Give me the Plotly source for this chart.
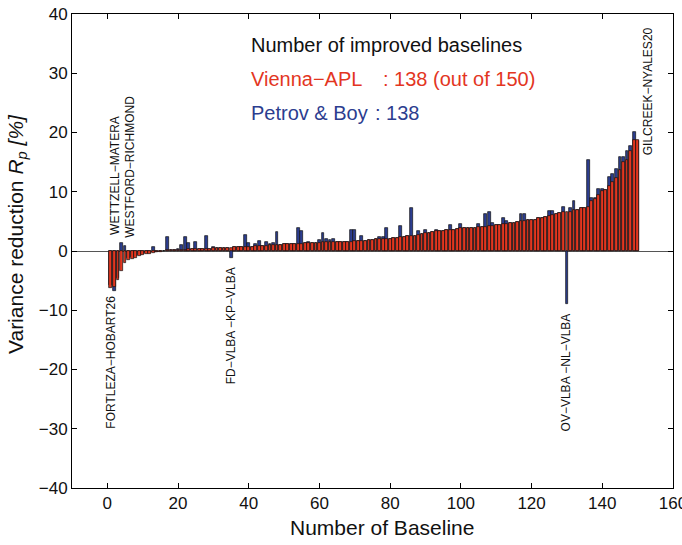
import plotly.graph_objects as go

# ---------------- data ----------------
baseline = list(range(1, 151))

vienna_apl = [
    -6.2, -6.0, -4.9, -3.4, -2.1, -1.6, -1.3, -1.1, -0.9, -0.7,
    -0.55, -0.45, -0.3, -0.2, -0.1, 0.05, 0.1, 0.15, 0.2, 0.2,
    0.25, 0.25, 0.3, 0.3, 0.35, 0.35, 0.4, 0.4, 0.4, 0.45,
    0.45, 0.5, 0.5, 0.55, 0.55, 0.6, 0.6, 0.65, 0.7, 0.7,
    0.75, 0.8, 0.85, 0.85, 0.9, 0.95, 1.0, 1.0, 1.05, 1.1,
    1.1, 1.15, 1.2, 1.2, 1.25, 1.3, 1.3, 1.35, 1.4, 1.4,
    1.45, 1.5, 1.5, 1.5, 1.55, 1.55, 1.6, 1.6, 1.6, 1.65,
    1.65, 1.7, 1.75, 1.8, 1.9, 1.95, 2.0, 2.0, 2.05, 2.1,
    2.15, 2.2, 2.3, 2.4, 2.5, 2.55, 2.6, 2.75, 2.85, 3.0,
    3.1, 3.25, 3.3, 3.35, 3.4, 3.5, 3.6, 3.6, 3.65, 3.8,
    3.8, 3.85, 3.9, 3.9, 4.0, 4.05, 4.1, 4.15, 4.3, 4.4,
    4.45, 4.5, 4.6, 4.7, 4.8, 4.9, 5.0, 5.1, 5.2, 5.25,
    5.3, 5.5, 5.6, 5.75, 5.9, 6.1, 6.3, 6.4, 6.5, 6.6,
    6.6, 6.9, 7.0, 7.2, 7.3, 7.5, 8.5, 8.8, 9.4, 10.2,
    10.35, 10.9, 11.6, 12.3, 13.7, 15.0, 15.3, 16.9, 18.7, 18.8,
]

petrov_boy = [
    -5.8, -6.7, -4.5, 1.35, 0.8, -1.2, -1.0, -0.9, -0.7, -0.5,
    -0.4, -0.3, 0.6, -0.1, -0.05, 0.05, 2.4, 0.1, 0.2, 0.3,
    1.0, 2.3, 1.3, 0.3, 1.5, 0.3, 0.4, 2.6, 0.4, 0.7,
    0.45, 0.5, 0.5, 0.55, -1.1, 0.6, 0.6, 0.65, 2.65, 1.35,
    0.75, 1.1, 1.7, 0.85, 1.5, 1.2, 1.3, 3.2, 1.05, 1.1,
    1.1, 1.15, 1.2, 3.8, 3.3, 1.3, 1.5, 1.35, 1.4, 1.9,
    3.1, 2.1, 1.8, 2.0, 1.55, 1.55, 1.6, 1.6, 3.6, 3.6,
    1.65, 2.5, 1.75, 1.8, 1.9, 1.95, 2.4, 2.4, 3.8, 2.1,
    2.15, 2.2, 4.3, 2.4, 2.5, 7.3, 2.6, 3.4, 2.85, 3.6,
    3.1, 3.25, 3.5, 3.35, 3.4, 3.5, 4.4, 3.6, 3.65, 4.6,
    3.8, 3.85, 3.9, 3.9, 4.6, 4.05, 6.3, 6.6, 4.8, 4.4,
    4.45, 5.5, 5.1, 4.7, 4.8, 4.9, 6.3, 6.2, 5.2, 5.25,
    5.3, 5.5, 5.6, 5.75, 6.75, 6.75, 6.3, 6.4, 7.4, -8.9,
    7.3, 8.4, 7.0, 7.3, 7.3, 15.4, 9.0, 9.0, 10.5, 10.4,
    10.35, 12.5, 13.05, 13.9, 15.85, 15.85, 16.8, 17.8, 20.1, 18.5,
]

x_ticks = [0, 20, 40, 60, 80, 100, 120, 140, 160]
y_ticks = [-40, -30, -20, -10, 0, 10, 20, 30, 40]

station_labels = ["FORTLEZA\u2212HOBART26", "WETTZELL\u2212MATERA", "WESTFORD\u2212RICHMOND",
                  "FD\u2212VLBA \u2212KP\u2212VLBA", "OV\u2212VLBA \u2212NL\u2212VLBA", "GILCREEK\u2212NYALES20"]
label_x = [1.1, 2.1, 6.4, 35.0, 130.0, 153.0]
label_y = [-18.8, 12.8, 14.2, -12.7, -20.5, 27.0]

RED = "#E3361F"
BLUE = "#2C3D8F"
FONT = "Liberation Sans, Arial, Helvetica, sans-serif"

# ---------------- figure ----------------
W, H = 682, 545
L, R, T, B = 72, 9, 14, 57

def px_x(px):
    return (px - L) / (W - L - R)

def px_y(py):
    return (H - B - py) / (H - T - B)

fig = go.Figure()
fig.add_trace(go.Bar(x=baseline, y=petrov_boy, width=0.8,
                     marker=dict(color=BLUE, line=dict(color="#111111", width=0.7)),
                     name="Petrov & Boy"))
fig.add_trace(go.Bar(x=baseline, y=vienna_apl, width=0.8,
                     marker=dict(color=RED, line=dict(color="#111111", width=0.7)),
                     name="Vienna-APL"))

annotations = []
for t, xv, yv in zip(station_labels, label_x, label_y):
    annotations.append(dict(x=xv, y=yv, xref="x", yref="y", text=t, textangle=-90,
                            showarrow=False, xanchor="center", yanchor="middle",
                            font=dict(size=12, color="#111111", family=FONT)))

legend_font = 20
annotations += [
    dict(x=px_x(249), y=px_y(45), xref="paper", yref="paper", text="Number of improved baselines",
         showarrow=False, xanchor="left", yanchor="middle",
         font=dict(size=legend_font, color="#111111", family=FONT)),
    dict(x=px_x(249), y=px_y(79), xref="paper", yref="paper", text="Vienna\u2212APL",
         showarrow=False, xanchor="left", yanchor="middle",
         font=dict(size=legend_font, color=RED, family=FONT)),
    dict(x=px_x(381), y=px_y(79), xref="paper", yref="paper", text=": 138 (out of 150)",
         showarrow=False, xanchor="left", yanchor="middle",
         font=dict(size=legend_font, color=RED, family=FONT)),
    dict(x=px_x(249), y=px_y(113), xref="paper", yref="paper", text="Petrov &amp; Boy",
         showarrow=False, xanchor="left", yanchor="middle",
         font=dict(size=legend_font, color=BLUE, family=FONT)),
    dict(x=px_x(373), y=px_y(113), xref="paper", yref="paper", text=": 138",
         showarrow=False, xanchor="left", yanchor="middle",
         font=dict(size=legend_font, color=BLUE, family=FONT)),
    # axis titles
    dict(x=px_x(381.5), y=px_y(527), xref="paper", yref="paper", text="Number of Baseline",
         showarrow=False, xanchor="center", yanchor="middle",
         font=dict(size=21, color="#111111", family=FONT)),
    dict(x=px_x(17), y=px_y(234), xref="paper", yref="paper",
         text="Variance reduction <i>R<sub>p</sub> [%]</i>", textangle=-90,
         showarrow=False, xanchor="center", yanchor="middle",
         font=dict(size=21, color="#111111", family=FONT)),
]

axis_common = dict(showline=True, linecolor="black", linewidth=1, mirror="ticks",
                   ticks="inside", ticklen=5, tickcolor="black", tickwidth=1,
                   showgrid=False, ticklabeloverflow="allow", automargin=False,
                   tickfont=dict(size=17, color="#111111", family=FONT))

fig.update_layout(
    width=W, height=H,
    margin=dict(l=L, r=R, t=T, b=B, pad=0, autoexpand=False),
    paper_bgcolor="white", plot_bgcolor="white",
    barmode="overlay", bargap=0,
    showlegend=False,
    annotations=annotations,
    xaxis=dict(range=[-10, 160], tickvals=x_ticks, zeroline=False, **axis_common),
    yaxis=dict(range=[-40, 40], tickvals=y_ticks, zeroline=True, zerolinecolor="#555555",
               zerolinewidth=1, **axis_common),
)

fig.write_html("out.html")
